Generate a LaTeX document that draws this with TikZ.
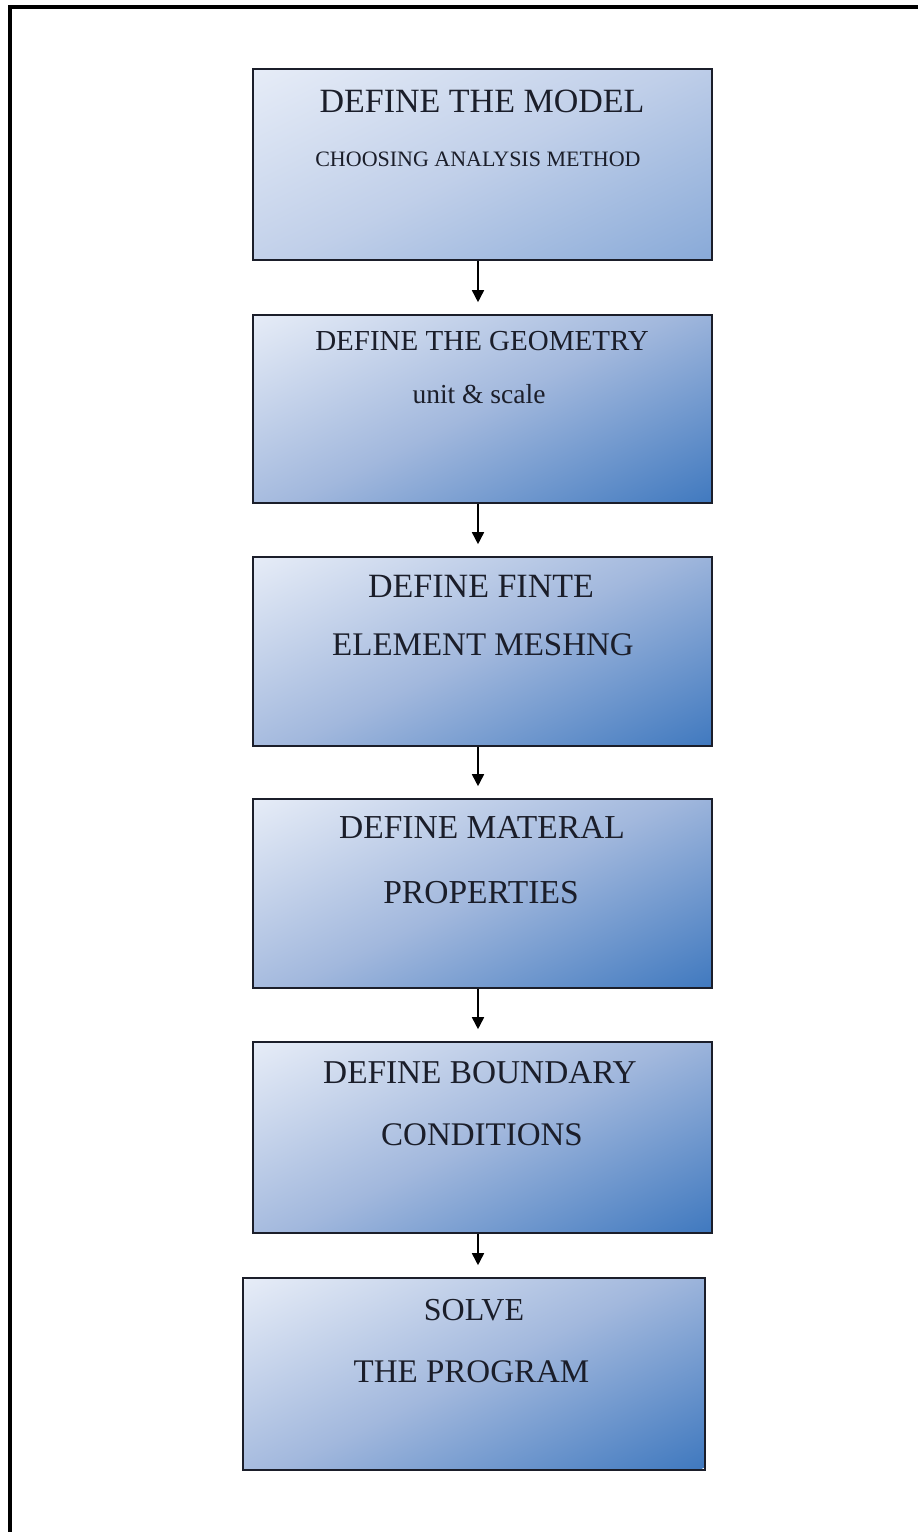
\documentclass[tikz,border=0pt]{standalone}
\usepackage{fontspec}
\setmainfont{Liberation Serif}
\usetikzlibrary{arrows.meta}
\definecolor{boxlight}{HTML}{E6ECF7}
\definecolor{boxmid}{HTML}{A2B8DD}
\definecolor{boxdark}{HTML}{4079BF}
\definecolor{softmid}{HTML}{C0CFE9}
\definecolor{boxsoft}{HTML}{89AAD8}
\definecolor{inkdark}{HTML}{1B1E2A}
\tikzset{
  % diagonal fill: light in the top-left corner, deep blue in the bottom-right
  gradfill/.style n args={3}{path picture={
    \begin{scope}[transform canvas={rotate around={-64:(path picture bounding box.center)}}]
      \shade[left color=#1, right color=#3, middle color=#2,
             shift={(path picture bounding box.center)}]
        (-185,-270) rectangle (185,270);
    \end{scope}}},
  stepbox/.style={draw=inkdark, line width=1.6pt, rectangle, inner sep=0pt,
    gradfill={boxlight}{boxmid}{boxdark}},
  firstbox/.style={draw=inkdark, line width=1.6pt, rectangle, inner sep=0pt,
    gradfill={boxlight}{softmid}{boxsoft}},
  label/.style={anchor=base, inner sep=0pt, text=inkdark},
  flow/.style={draw=black, line width=1.6pt,
    -{Triangle[width=12pt,length=12pt]}, shorten >=12pt},
}
\newcommand{\fs}[1]{\fontsize{#1}{#1}\selectfont}
\begin{document}
\begin{tikzpicture}[x=1pt, y=-1pt]
  \useasboundingbox (0,0) rectangle (918,1532);
  \fill[white] (0,0) rectangle (918,1532);
  % frame along the top and left edges
  \draw[line width=4pt] (9.5,1532) -- (9.5,7) -- (918,7);

  % process steps
  \node[firstbox, minimum width=459pt, minimum height=191pt] (b1) at (482.5,164.5) {};
  \node[stepbox, minimum width=459pt, minimum height=188pt] (b2) at (482.5,409) {};
  \node[stepbox, minimum width=459pt, minimum height=189pt] (b3) at (482.5,651.5) {};
  \node[stepbox, minimum width=459pt, minimum height=189pt] (b4) at (482.5,893.5) {};
  \node[stepbox, minimum width=459pt, minimum height=191pt] (b5) at (482.5,1137.5) {};
  \node[stepbox, minimum width=462pt, minimum height=192pt] (b6) at (474,1374) {};

  % step texts
  \node[label, font=\fs{34}] (t1a) at (482,112) {DEFINE THE MODEL};
  \node[label, font=\fs{22}] (t1b) at (478,166) {CHOOSING ANALYSIS METHOD};
  \node[label, font=\fs{29}] (t2a) at (482,350) {DEFINE THE GEOMETRY};
  \node[label, font=\fs{27.5}] (t2b) at (479,403) {unit \& scale};
  \node[label, font=\fs{34}] (t3a) at (481,597) {DEFINE FINTE};
  \node[label, font=\fs{33}] (t3b) at (483,655) {ELEMENT MESHNG};
  \node[label, font=\fs{33.5}] (t4a) at (482,838) {DEFINE MATERAL};
  \node[label, font=\fs{33.5}] (t4b) at (481,903) {PROPERTIES};
  \node[label, font=\fs{33.3}] (t5a) at (480,1083) {DEFINE BOUNDARY};
  \node[label, font=\fs{33}] (t5b) at (482,1145) {CONDITIONS};
  \node[label, font=\fs{32}] (t6a) at (474,1320) {SOLVE};
  \node[label, font=\fs{33}] (t6b) at (471.5,1382) {THE PROGRAM};

  % connectors run down one column
  \coordinate (ax) at (478,0);
  \draw[flow] (b1.south -| ax) -- (b2.north -| ax);
  \draw[flow] (b2.south -| ax) -- (b3.north -| ax);
  \draw[flow] (b3.south -| ax) -- (b4.north -| ax);
  \draw[flow] (b4.south -| ax) -- (b5.north -| ax);
  \draw[flow] (b5.south -| ax) -- (b6.north -| ax);
\end{tikzpicture}
\end{document}
